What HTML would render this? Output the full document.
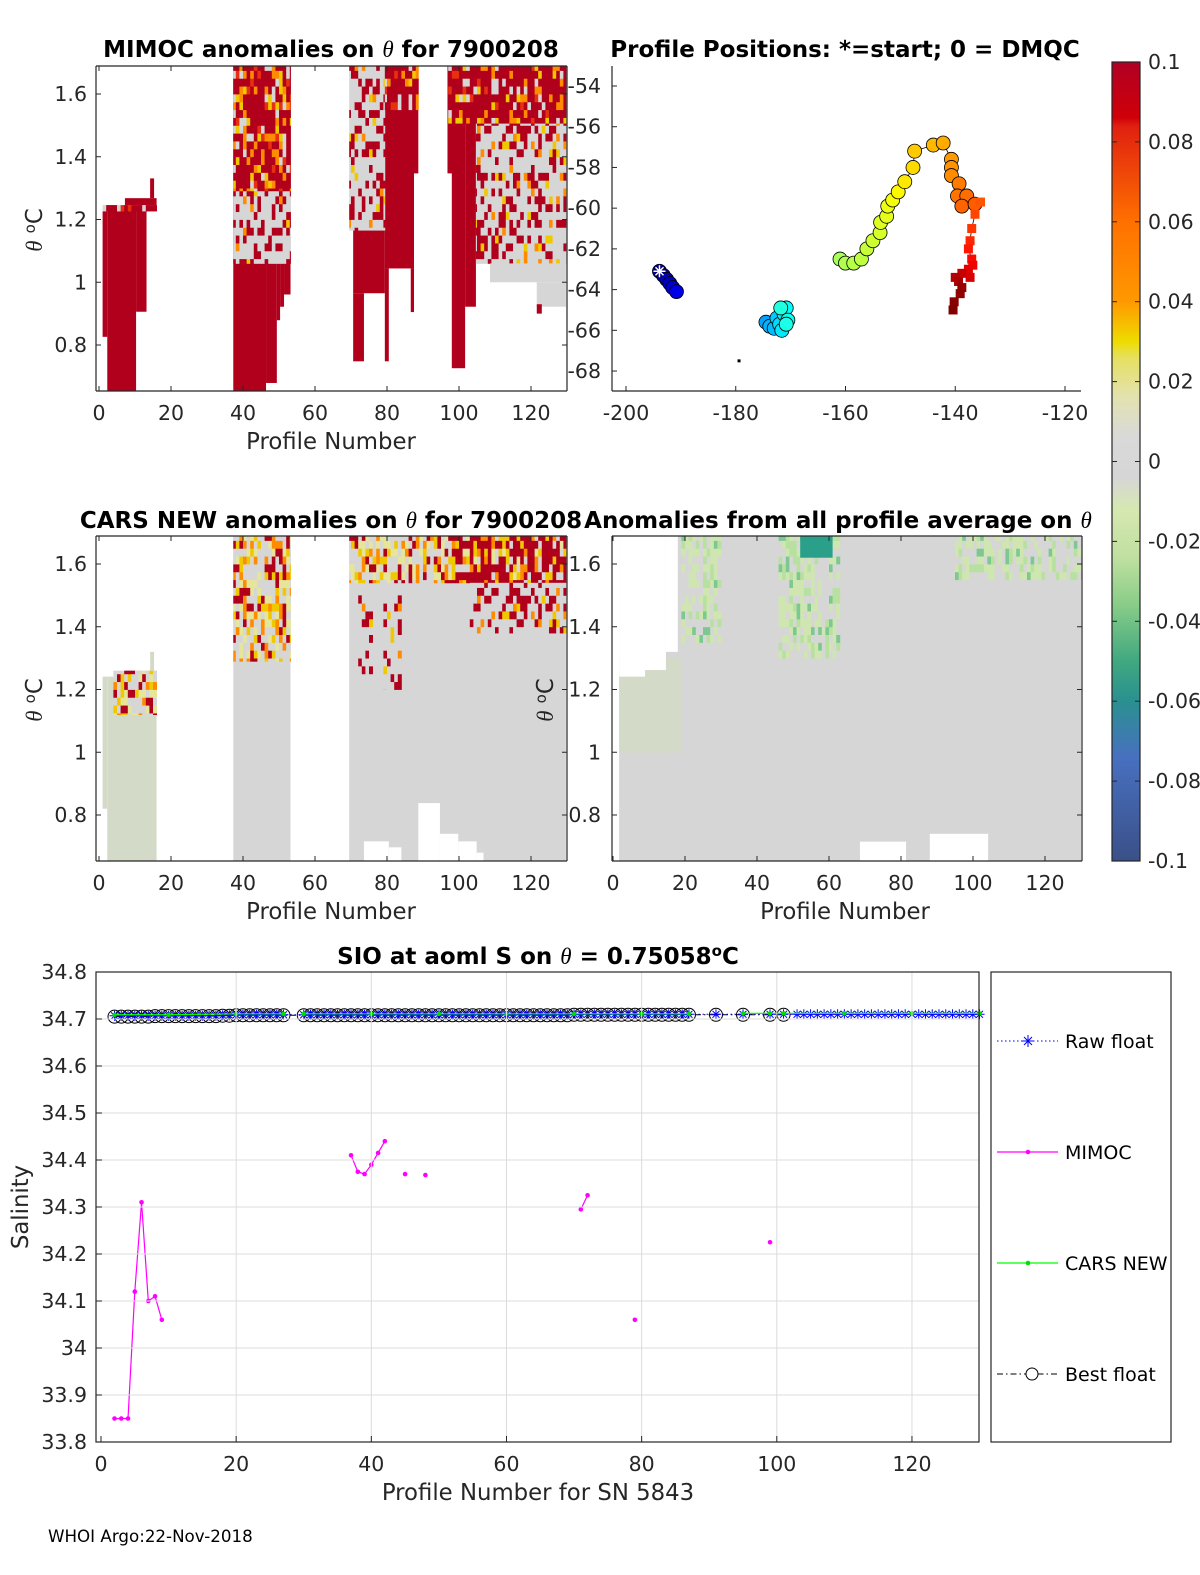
<!DOCTYPE html>
<html><head><meta charset="utf-8"><style>
html,body{margin:0;padding:0;background:#fff;}
svg{display:block;font-family:"DejaVu Sans","Liberation Sans",sans-serif;}
.t{font-size:20.5px;fill:#262626;}
.ti{font-size:23px;font-weight:bold;fill:#000;}
.ax{font-size:22.8px;fill:#262626;}
.lgt{font-size:19px;fill:#000;}
</style></head><body>
<svg id="fig" width="1200" height="1575" viewBox="0 0 1200 1575" xmlns="http://www.w3.org/2000/svg">
<defs>
<clipPath id="c1"><rect x="96" y="66" width="471" height="325"/></clipPath>
<clipPath id="c3"><rect x="96" y="536" width="471" height="325"/></clipPath>
<clipPath id="c4"><rect x="612" y="536" width="470" height="325"/></clipPath>
<clipPath id="c2"><rect x="612" y="66" width="469" height="325"/></clipPath>
<linearGradient id="cbg" x1="0" y1="0" x2="0" y2="1">
<stop offset="0" stop-color="#b00025"/><stop offset="0.07" stop-color="#d00008"/><stop offset="0.08" stop-color="#e02010"/>
<stop offset="0.2" stop-color="#ff7000"/><stop offset="0.3" stop-color="#ff9900"/><stop offset="0.35" stop-color="#eedc00"/>
<stop offset="0.37" stop-color="#e6e060"/><stop offset="0.42" stop-color="#e2e2b0"/><stop offset="0.47" stop-color="#d9d9d9"/>
<stop offset="0.52" stop-color="#d6d6d6"/><stop offset="0.56" stop-color="#d6e8b0"/><stop offset="0.62" stop-color="#c0e0a0"/>
<stop offset="0.68" stop-color="#88cc88"/><stop offset="0.75" stop-color="#40a880"/><stop offset="0.8" stop-color="#2a9090"/>
<stop offset="0.87" stop-color="#4870c0"/><stop offset="1" stop-color="#3a5088"/>
</linearGradient>
</defs>
<g id="root"></g>
<text x="331" y="57" text-anchor="middle" class="ti">MIMOC anomalies on <tspan font-style="italic" font-family="Liberation Serif" font-weight="normal">θ</tspan>  for 7900208</text>
<text x="845" y="57" text-anchor="middle" class="ti">Profile Positions: *=start; 0 = DMQC</text>
<text x="331" y="528" text-anchor="middle" class="ti">CARS NEW anomalies on <tspan font-style="italic" font-family="Liberation Serif" font-weight="normal">θ</tspan> for 7900208</text>
<text x="838" y="528" text-anchor="middle" class="ti">Anomalies from all profile average on <tspan font-style="italic" font-family="Liberation Serif" font-weight="normal">θ</tspan></text>
<text x="538" y="964" text-anchor="middle" class="ti">SIO at aoml S on <tspan font-style="italic" font-family="Liberation Serif" font-weight="normal">θ</tspan> = 0.75058<tspan dy="-8" font-size="15">o</tspan><tspan dy="8">C</tspan></text>
<text x="331" y="449" text-anchor="middle" class="ax">Profile Number</text>
<text x="331" y="919" text-anchor="middle" class="ax">Profile Number</text>
<text x="845" y="919" text-anchor="middle" class="ax">Profile Number</text>
<text x="538" y="1500" text-anchor="middle" class="ax">Profile Number for SN 5843</text>
<text transform="translate(42,230) rotate(-90)" text-anchor="middle" class="ax"><tspan font-style="italic" font-family="Liberation Serif">θ</tspan> <tspan dy="-7" font-size="15">o</tspan><tspan dy="7">C</tspan></text>
<text transform="translate(42,700) rotate(-90)" text-anchor="middle" class="ax"><tspan font-style="italic" font-family="Liberation Serif">θ</tspan> <tspan dy="-7" font-size="15">o</tspan><tspan dy="7">C</tspan></text>
<text transform="translate(553,700) rotate(-90)" text-anchor="middle" class="ax"><tspan font-style="italic" font-family="Liberation Serif">θ</tspan> <tspan dy="-7" font-size="15">o</tspan><tspan dy="7">C</tspan></text>
<text transform="translate(28,1207) rotate(-90)" text-anchor="middle" class="ax">Salinity</text>
<text x="48" y="1542" font-size="16.7" fill="#000">WHOI Argo:22-Nov-2018</text>
</svg>
<script>
// ---------- data ----------
const heatTicksX=[0,20,40,60,80,100,120];
const thetaTicks=[0.8,1,1.2,1.4,1.6];
const latTicks=[-54,-56,-58,-60,-62,-64,-66,-68];
const lonTicks=[-200,-180,-160,-140,-120];
const cbTicks=[0.1,0.08,0.06,0.04,0.02,0,-0.02,-0.04,-0.06,-0.08,-0.1];
const salTicks=[33.8,33.9,34,34.1,34.2,34.3,34.4,34.5,34.6,34.7,34.8];
// MIMOC heat regions [p0,p1,theta0,theta1,kind]
const mimocRegions=[
[1.0,2.3,0.826,1.227,'R'],[2.3,10.3,0.6,1.227,'R'],[10.3,13.2,0.906,1.227,'R'],[1.0,16,1.227,1.246,'mixR'],[7.2,16,1.246,1.268,'R'],[14.2,15.3,1.268,1.331,'R'],
[37.3,46.4,0.6,1.689,'R'],[46.4,49.4,0.679,1.67,'R'],[49.4,50.3,0.879,1.67,'R'],[50.3,51.4,0.922,1.67,'R'],[51.4,53.2,0.961,1.67,'R'],
[37.3,53.2,1.29,1.70,'mixR'],[37.3,53.2,1.06,1.29,'mixG'],
[70.6,79.4,0.965,1.166,'R'],[70.6,73.6,0.748,0.965,'R'],[79.4,87.5,1.044,1.70,'R'],[79.4,80.5,0.748,1.044,'R'],[86.6,87.5,0.905,1.044,'R'],[87.5,88.7,1.347,1.70,'R'],
[69.5,79.4,1.166,1.70,'mixG'],[79.4,88.7,1.55,1.70,'mixR'],
[96.8,99.8,1.347,1.70,'R'],[98.0,101.7,0.726,1.70,'R'],[101.7,104.7,0.922,1.70,'R'],[104.7,108.6,1.06,1.70,'R'],
[104.7,129.7,1.06,1.507,'mixG'],[108.6,129.7,1.0,1.06,'G'],[121.6,129.7,0.922,1.0,'G'],[121.6,123,0.9,0.93,'R'],
[97,129.7,1.507,1.70,'mixR']
];
const carsRegions=[
[1.0,2.3,0.82,1.241,'L'],[2.3,16,0.6,1.241,'L'],[7.2,16,1.241,1.26,'L'],[14.2,15.3,1.26,1.32,'L'],[4,16,1.12,1.26,'mixY'],
[37.3,53.2,0.6,1.689,'G'],[37.3,53.2,1.29,1.689,'mixY'],
[69.5,129.7,0.6,1.70,'G'],[73.6,80.5,0.6,0.716,'W'],[80.5,84,0.6,0.697,'W'],[88.7,94.7,0.6,0.838,'W'],[94.7,99.8,0.6,0.74,'W'],[99.8,104.9,0.6,0.716,'W'],[104.9,106.8,0.6,0.68,'W'],
[69.5,98,1.54,1.70,'mixY'],[98,129.7,1.54,1.70,'mixRY'],[103,129.7,1.38,1.54,'mixG'],[72,76,1.25,1.5,'mixG'],[79,84,1.2,1.5,'mixG']
];
const avgRegions=[
[1.7,130,0.6,1.70,'G'],[1.7,18.9,1.0,1.3,'L'],[1.7,8.9,1.241,1.70,'W'],[8.9,14.7,1.262,1.70,'W'],[14.7,18,1.32,1.70,'W'],
[18.9,30,1.35,1.70,'mixL'],[46,63,1.3,1.70,'mixL'],[52,61,1.62,1.70,'D'],[95,130,1.55,1.70,'mixL'],
[68.6,81.4,0.6,0.715,'W'],[88,104.2,0.6,0.74,'W']
];
// float positions: lon, lat, profile number
const posLon=[-193.9,-193.2,-192.6,-192.0,-191.5,-190.8,-174.5,-173.8,-173.0,-172.5,-172.0,-171.6,-171.2,-170.8,-170.5,-170.8,-171.8,
-161,-160,-158.5,-157.1,-156.1,-155,-153.7,-153.6,-152.5,-152.3,-151.4,-150.4,-149.2,-147.7,-147.4,-144.0,-142.2,-140.7,-140.7,-140.7,-139.3,-139.6,-137.9,-138.8,-136.4,
-135.4,-136.4,-137.0,-137.3,-137.6,-137.0,-136.8,-137.6,-137.3,-138.8,-140.0,-139.4,-138.8,-139.1,-140.2,-140.4];
const posLat=[-63.1,-63.3,-63.5,-63.7,-63.9,-64.1,-65.6,-65.8,-65.9,-65.4,-65.7,-66.0,-65.2,-64.9,-65.5,-65.7,-64.9,
-62.5,-62.7,-62.7,-62.5,-62.0,-61.6,-61.2,-60.7,-60.4,-59.9,-59.6,-59.2,-58.7,-58.0,-57.2,-56.9,-56.8,-57.6,-58.0,-58.4,-58.8,-59.4,-59.4,-59.9,-59.8,
-59.7,-60.3,-61.0,-61.6,-62.0,-62.5,-62.8,-63.0,-63.4,-63.2,-63.4,-63.6,-63.9,-64.2,-64.6,-65.0];
const posProf=[2,4,6,8,10,13,37,39,40,42,44,46,47,49,50,52,53,
70,71,72,73,74,75,76,77,78,79,80,82,84,86,88,90,92,94,95,96,98,99,100,101,102,
103,105,107,109,111,113,115,117,119,121,123,125,127,128,129,130];
const dmqcStart=42;
// salinity series
const mimocP=[2,3,4,5,6,7,8,9,null,37,38,39,40,41,42,null,45,null,48,null,71,72,null,79,null,99];
const mimocS=[33.85,33.85,33.85,34.12,34.31,34.10,34.11,34.06,null,34.41,34.375,34.37,34.39,34.415,34.44,null,34.37,null,34.368,null,34.295,34.325,null,34.06,null,34.225];
const bestP=[2,3,4,5,6,7,8,9,10,11,12,13,14,15,16,17,18,19,20,21,22,23,24,25,26,27,30,31,32,33,34,35,36,37,38,39,40,41,42,43,44,45,46,47,48,49,50,51,52,53,54,55,56,57,58,59,60,61,62,63,64,65,66,67,68,69,70,71,72,73,74,75,76,77,78,79,80,81,82,83,84,85,86,87,91,95,99,101];
const bestS=[34.705,34.705,34.705,34.705,34.705,34.705,34.706,34.706,34.706,34.706,34.706,34.706,34.706,34.706,34.706,34.706,34.707,34.707,34.708,34.708,34.708,34.708,34.708,34.708,34.708,34.708,34.708,34.708,34.708,34.708,34.708,34.708,34.708,34.708,34.708,34.708,34.708,34.708,34.708,34.708,34.708,34.708,34.708,34.708,34.708,34.708,34.708,34.708,34.708,34.708,34.708,34.708,34.708,34.708,34.708,34.708,34.708,34.708,34.708,34.708,34.708,34.708,34.708,34.708,34.708,34.708,34.709,34.709,34.709,34.709,34.709,34.709,34.709,34.709,34.709,34.709,34.709,34.709,34.709,34.709,34.709,34.709,34.709,34.709,34.709,34.709,34.709,34.709];
const rawP=[2,3,4,5,6,7,8,9,10,11,12,13,14,15,16,17,18,19,20,21,22,23,24,25,26,27,30,31,32,33,34,35,36,37,38,39,40,41,42,43,44,45,46,47,48,49,50,51,52,53,54,55,56,57,58,59,60,61,62,63,64,65,66,67,68,69,70,71,72,73,74,75,76,77,78,79,80,81,82,83,84,85,86,87,91,95,99,101,103,104,105,106,107,108,109,110,111,112,113,114,115,116,117,118,119,120,121,122,123,124,125,126,127,128,129,130];
const rawS=[34.707,34.707,34.707,34.707,34.707,34.707,34.707,34.707,34.707,34.707,34.707,34.707,34.707,34.707,34.707,34.707,34.708,34.708,34.709,34.709,34.709,34.709,34.709,34.709,34.709,34.709,34.709,34.709,34.709,34.709,34.709,34.709,34.709,34.709,34.709,34.709,34.709,34.709,34.709,34.709,34.709,34.709,34.709,34.709,34.709,34.709,34.709,34.709,34.709,34.709,34.709,34.709,34.709,34.709,34.709,34.709,34.709,34.709,34.709,34.709,34.709,34.709,34.709,34.709,34.709,34.709,34.71,34.71,34.71,34.71,34.71,34.71,34.71,34.71,34.71,34.71,34.71,34.71,34.71,34.71,34.71,34.71,34.71,34.71,34.71,34.71,34.71,34.71,34.71,34.71,34.71,34.71,34.71,34.71,34.71,34.71,34.71,34.71,34.71,34.71,34.71,34.71,34.71,34.71,34.71,34.71,34.71,34.71,34.71,34.71,34.71,34.71,34.71,34.71,34.71,34.71];
const carsP=[2,10,20,27,null,30,40,50,60,70,80,87,null,95,99,101,110,120,130];
const carsS=[34.709,34.709,34.711,34.711,null,34.711,34.711,34.711,34.711,34.711,34.711,34.711,null,34.712,34.712,34.712,34.712,34.712,34.712];

// ---------- helpers ----------
const NS='http://www.w3.org/2000/svg';
const root=document.getElementById('root');
function mk(tag,attrs,parent){const e=document.createElementNS(NS,tag);for(const k in attrs)e.setAttribute(k,attrs[k]);(parent||root).appendChild(e);return e;}
function grp(clip){const g=mk('g',clip?{'clip-path':'url(#'+clip+')'}:{});return g;}
const COL={R:'#b0001c',G:'#d6d6d6',W:'#ffffff',L:'#d3dbc8',D:'#2aa08a'};
const PAL={
 mixR:[['#b0001c',58],['#e63010',9],['#ff8c00',11],['#f0c800',9],['#d6d6d6',13]],
 mixG:[['#d6d6d6',62],['#b0001c',30],['#f0c800',4],['#ff8c00',4]],
 mixY:[['#d6d6d6',42],['#e6e69a',16],['#f0c800',14],['#ff8c00',12],['#b0001c',16]],
 mixRY:[['#b0001c',42],['#f0c800',18],['#ff8c00',15],['#d6d6d6',15],['#e6e69a',10]],
 mixL:[['#d6d6d6',38],['#cfe6b0',36],['#b8e0a0',16],['#7cc890',10]]
};
function hpick(i,j,pal){let h=((i*73856093)^(j*19349663))>>>0;h=(h^(h>>>13))*1274126177>>>0;h=h%100;let acc=0;for(const [c,w] of pal){acc+=w;if(h<acc)return c;}return pal[0][0];}
function heat(regions,ax,g,name){
  regions.forEach((r,ri)=>{
    const [p0,p1,t0,t1,k]=r;
    if(PAL[k]){
      for(let i=Math.floor(p0);i<p1;i++){
        for(let j=Math.floor(t0/0.025);j*0.025<t1;j++){
          const a=Math.max(i,p0),b=Math.min(i+1,p1),c=Math.max(j*0.025,t0),d=Math.min((j+1)*0.025,t1);
          if(b<=a||d<=c)continue;
          const e=mk('rect',{x:ax.px(a),y:ax.py(d),width:ax.px(b)-ax.px(a)+0.4,height:ax.py(c)-ax.py(d)+0.4,fill:hpick(i,j,PAL[k])},g);
          
          
        }
      }
    } else {
      const e=mk('rect',{x:ax.px(p0),y:ax.py(t1),width:ax.px(p1)-ax.px(p0),height:ax.py(t0)-ax.py(t1),fill:COL[k]},g);
      
      
    }
  });
}
function txt(x,y,s,anchor,name,cls){const e=mk('text',{x:x,y:y,'text-anchor':anchor||'middle',class:cls||'t'});e.textContent=s;
  
  
  return e;}
function line(x1,y1,x2,y2,st,sw,name,dash){const e=mk('line',{x1:x1,y1:y1,x2:x2,y2:y2,stroke:st,'stroke-width':sw||1});if(dash)e.setAttribute('stroke-dasharray',dash);
  
  
  return e;}
function fmt(v){return String(Math.round(v*1000)/1000);}

// ---------- heat panels ----------
function heatPanel(ax,regions,clip,name,ylabX){
  const g=grp(clip);
  
  
  heat(regions,ax,g,name);
  line(ax.left,ax.bottom,ax.right,ax.bottom,'#262626',1.2,name+'-x-axis');
  line(ax.left,ax.top,ax.left,ax.bottom,'#262626',1.2,name+'-y-axis');
  line(ax.left,ax.top,ax.right,ax.top,'#262626',1.2,name+'-top-edge');
  line(ax.right,ax.top,ax.right,ax.bottom,'#262626',1.2,name+'-right-edge');
  heatTicksX.forEach(v=>{const x=ax.px(v);line(x,ax.bottom,x,ax.bottom-5,'#262626',1,name+'-x-tick');line(x,ax.top,x,ax.top+5,'#262626',1,name+'-x-tick-top');txt(x,ax.bottom+29,String(v),'middle',name+'-x-tick-label');});
  thetaTicks.forEach(v=>{const y=ax.py(v);line(ax.left,y,ax.left+5,y,'#262626',1,name+'-y-tick');line(ax.right,y,ax.right-5,y,'#262626',1,name+'-y-tick-right');txt(ylabX,y+7,fmt(v),'end',name+'-y-tick-label');});
}
const A1={px:p=>99+p*3.6,py:t=>94+(1.6-t)*313.75,left:96,right:567,top:66,bottom:391};
const A3={px:p=>99+p*3.6,py:t=>564+(1.6-t)*313.75,left:96,right:567,top:536,bottom:861};
const A4={px:p=>613+p*3.6,py:t=>564+(1.6-t)*313.75,left:612,right:1082,top:536,bottom:861};
heatPanel(A1,mimocRegions,'c1','mimoc',87);
heatPanel(A3,carsRegions,'c3','cars',87);
heatPanel(A4,avgRegions,'c4','average',601);

// ---------- positions panel ----------
const A2={px:l=>626+(l+200)*5.4875,py:a=>86+(-54-a)*20.36,left:612,right:1081,top:66,bottom:391};
line(A2.left,A2.top,A2.left,A2.bottom,'#262626',1.2,'positions-y-axis');
line(A2.left,A2.bottom,A2.right,A2.bottom,'#262626',1.2,'positions-x-axis');
latTicks.forEach(v=>{const y=A2.py(v);line(A2.left,y,A2.left+5,y,'#262626',1,'lat-tick');txt(601,y+7,String(v),'end','lat-tick-label');});
lonTicks.forEach(v=>{const x=A2.px(v);line(x,A2.bottom,x,A2.bottom-5,'#262626',1,'lon-tick');txt(x,420,String(v),'middle','lon-tick-label');});
function jet(t){const c=x=>Math.max(0,Math.min(1,x));const r=c(1.5-Math.abs(4*t-3)),g=c(1.5-Math.abs(4*t-2)),b=c(1.5-Math.abs(4*t-1));return 'rgb('+Math.round(r*255)+','+Math.round(g*255)+','+Math.round(b*255)+')';}
const pg=grp('c2');


[[0,6],[6,17],[17,posLon.length]].forEach(([a,b])=>{
  const pts=[];for(let i=a;i<b;i++)pts.push(A2.px(posLon[i])+','+A2.py(posLat[i]));
  const pl=mk('polyline',{points:pts.join(' '),fill:'none',stroke:'#000','stroke-width':0.8},pg);
  
  
});
posLon.forEach((lo,i)=>{
  const x=A2.px(lo),y=A2.py(posLat[i]),c=jet(posProf[i]/130);
  let e;
  if(i>=dmqcStart){e=mk('rect',{x:x-4.5,y:y-4.5,width:9,height:9,fill:c},pg);}
  else{e=mk('circle',{cx:x,cy:y,r:7,fill:c,stroke:'#000','stroke-width':0.8},pg);}
  
  
});
{const x=A2.px(posLon[0]),y=A2.py(posLat[0]);
 const s=mk('path',{d:`M${x-6},${y}H${x+6}M${x},${y-6}V${y+6}M${x-4},${y-4}L${x+4},${y+4}M${x-4},${y+4}L${x+4},${y-4}`,stroke:'#fff','stroke-width':1.5},pg);
 
 }
{const d=mk('rect',{x:A2.px(-179.4)-1.5,y:A2.py(-67.5)-1.5,width:3,height:3,fill:'#000'},pg);
 
 }

// ---------- colorbar ----------
const cb=mk('rect',{x:1112,y:62,width:28,height:799,fill:'url(#cbg)',stroke:'#262626','stroke-width':1.2});


cbTicks.forEach(v=>{const y=62+(0.1-v)/0.2*799;line(1112,y,1117,y,'#262626',1,'colorbar-tick');line(1140,y,1135,y,'#262626',1,'colorbar-tick-right');txt(1148,y+7,fmt(v),'start','colorbar-tick-label');});

// ---------- salinity plot ----------
const AS={px:p=>101+p*6.758,py:s=>972+(34.8-s)*470,left:96,right:979,top:972,bottom:1442};
const sg=grp();


heatTicksX.forEach(v=>{const x=AS.px(v);if(v>0)line(x,AS.top,x,AS.bottom,'#dcdcdc',1,'salinity-x-grid');});
salTicks.forEach(v=>{const y=AS.py(v);line(AS.left,y,AS.right,y,'#dcdcdc',1,'salinity-y-grid');});
const box=mk('rect',{x:AS.left,y:AS.top,width:AS.right-AS.left,height:AS.bottom-AS.top,fill:'none',stroke:'#262626','stroke-width':1.2});


heatTicksX.forEach(v=>{const x=AS.px(v);line(x,AS.bottom,x,AS.bottom-6,'#262626',1,'salinity-x-tick');txt(x,1471,String(v),'middle','salinity-x-tick-label');});
salTicks.forEach(v=>{const y=AS.py(v);line(AS.left,y,AS.left+6,y,'#262626',1,'salinity-y-tick');txt(87,y+7,fmt(v),'end','salinity-y-tick-label');});
function series(P,S,color,width,name,dash){
  let seg=[];const segs=[];
  P.forEach((p,i)=>{if(p===null){if(seg.length)segs.push(seg);seg=[];}else seg.push(AS.px(p)+','+AS.py(S[i]));});
  if(seg.length)segs.push(seg);
  segs.forEach(s=>{const e=mk('polyline',{points:s.join(' '),fill:'none',stroke:color,'stroke-width':width},sg);if(dash)e.setAttribute('stroke-dasharray',dash);
    
    });
}
series(bestP,bestS,'#000',1,'best-float','6,3,1.5,3');
bestP.forEach((p,i)=>{const e=mk('circle',{cx:AS.px(p),cy:AS.py(bestS[i]),r:6.5,fill:'none',stroke:'#000','stroke-width':1},sg);
  
  });
series(rawP,rawS,'#0000ff',1,'raw-float','1.5,2.5');
rawP.forEach((p,i)=>{const x=AS.px(p),y=AS.py(rawS[i]);
  const e=mk('path',{d:`M${x-5},${y}H${x+5}M${x},${y-5}V${y+5}M${x-3.5},${y-3.5}L${x+3.5},${y+3.5}M${x-3.5},${y+3.5}L${x+3.5},${y-3.5}`,stroke:'#0000ff','stroke-width':1},sg);
  
  });
series(carsP,carsS,'#00ff00',1.2,'cars');
carsP.forEach((p,i)=>{if(p===null)return;const e=mk('circle',{cx:AS.px(p),cy:AS.py(carsS[i]),r:2.2,fill:'#00e000'},sg);
  
  });
series(mimocP,mimocS,'#ff00ff',1.2,'mimoc');
mimocP.forEach((p,i)=>{if(p===null)return;const e=mk('circle',{cx:AS.px(p),cy:AS.py(mimocS[i]),r:2.3,fill:'#ff00ff'},sg);
  
  });

// ---------- legend ----------
const lg=mk('rect',{x:991,y:972,width:180,height:470,fill:'#fff',stroke:'#262626','stroke-width':1.2});


const legY=[1041,1152,1263,1374];
line(997,legY[0],1058,legY[0],'#0000ff',1,'legend-raw-line','1.5,2.5');
{const x=1028,y=legY[0];const e=mk('path',{d:`M${x-6},${y}H${x+6}M${x},${y-6}V${y+6}M${x-4},${y-4}L${x+4},${y+4}M${x-4},${y+4}L${x+4},${y-4}`,stroke:'#0000ff','stroke-width':1});
 
 }
txt(1065,legY[0]+7,'Raw float','start','legend-raw-label','lgt');
line(997,legY[1],1058,legY[1],'#ff00ff',1.2,'legend-mimoc-line');
{const e=mk('circle',{cx:1028,cy:legY[1],r:2.3,fill:'#ff00ff'});
 }
txt(1065,legY[1]+7,'MIMOC','start','legend-mimoc-label','lgt');
line(997,legY[2],1058,legY[2],'#00ff00',1.2,'legend-cars-line');
{const e=mk('circle',{cx:1028,cy:legY[2],r:2.3,fill:'#00e000'});
 }
txt(1065,legY[2]+7,'CARS NEW','start','legend-cars-label','lgt');
line(997,legY[3],1058,legY[3],'#000',1,'legend-best-line','6,3,1.5,3');
{const e=mk('circle',{cx:1032,cy:legY[3],r:6,fill:'#fff',stroke:'#000'});
 }
txt(1065,legY[3]+7,'Best float','start','legend-best-label','lgt');
</script>
</body></html>
